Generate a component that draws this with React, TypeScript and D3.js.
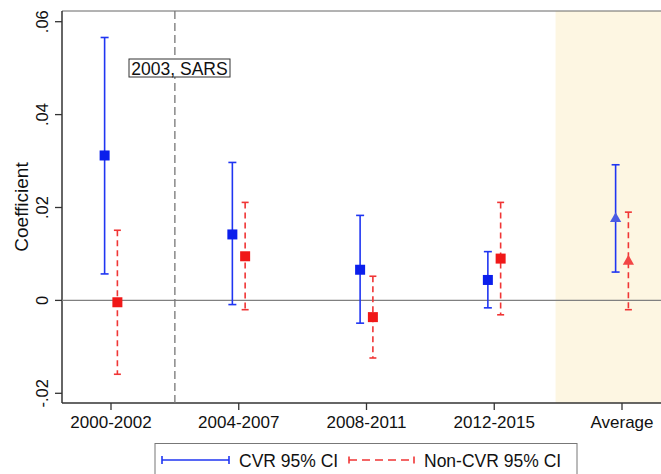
import React from 'react'
import * as d3 from 'd3'

// periods on the x axis (positions 1..5)
const periods = ['2000-2002', '2004-2007', '2008-2011', '2012-2015', 'Average']

// CVR coefficient and 95% CI
const cvrCoef = [0.0312, 0.0142, 0.0066, 0.0044, 0.0176]
const cvrLo = [0.0057, -0.0009, -0.0049, -0.0016, 0.0061]
const cvrHi = [0.0566, 0.0297, 0.0183, 0.0105, 0.0292]

// Non-CVR coefficient and 95% CI
const nonCoef = [-0.0004, 0.0095, -0.0036, 0.009, 0.0084]
const nonLo = [-0.0159, -0.002, -0.0124, -0.0031, -0.002]
const nonHi = [0.0151, 0.0211, 0.0052, 0.0211, 0.019]

const yTicks = [-0.02, 0, 0.02, 0.04, 0.06]
const yTickLabels = ['-.02', '0', '.02', '.04', '.06']

const sarsAt = 1.5
const avgShadeFrom = 4.48

const W = 661
const H = 474
const left = 62
const right = 661
const top = 11
const bottom = 403
const font = '"Liberation Sans", Arial, Helvetica, sans-serif'

const BLUE = '#1f35f2'
const BLUE_MARK = '#0b1fec'
const BLUE_AVG = '#4a5be3'
const RED = '#f03535'
const RED_MARK = '#f01818'
const RED_AVG = '#f24545'

export default function App() {
	const x = d3.scaleLinear().domain([1, 5]).range([111, 622])
	const y = d3.scaleLinear().domain([-0.02, 0.06]).range([393.3, 21.7])
	const off = 0.05
	const tri = d3.symbol().type(d3.symbolTriangle).size(55)()

	const series = [
		{ coef: cvrCoef, lo: cvrLo, hi: cvrHi, dx: -off, line: BLUE, mark: BLUE_MARK, avg: BLUE_AVG, dash: undefined, cap: 4 },
		{ coef: nonCoef, lo: nonLo, hi: nonHi, dx: off, line: RED, mark: RED_MARK, avg: RED_AVG, dash: '6,4', cap: 3.5 },
	]

	return (
		<svg width={W} height={H} style={{ position: 'absolute', left: 0, top: 0, background: '#fff' }} fontFamily={font}>
			{/* average shading */}
			<rect x={x(avgShadeFrom)} y={top} width={right - x(avgShadeFrom)} height={bottom - top} fill="#fdf6e2" />

			{/* frame */}
			<line x1={left} x2={right} y1={top} y2={top} stroke="#666" strokeWidth={1} />
			<line x1={left} x2={right} y1={bottom} y2={bottom} stroke="#333" strokeWidth={1.5} />
			<line x1={left} x2={left} y1={top} y2={bottom} stroke="#333" strokeWidth={1.5} />

			{/* zero line */}
			<line x1={left} x2={right} y1={y(0)} y2={y(0)} stroke="#808080" strokeWidth={1.4} />

			{/* SARS line */}
			<line x1={x(sarsAt)} x2={x(sarsAt)} y1={top} y2={bottom} stroke="#777" strokeWidth={1.3} strokeDasharray="8,4" />
			<rect x={129} y={59} width={101} height={18} fill="#fff" stroke="#333" strokeWidth={1} />
			<text x={179.5} y={74.5} fontSize={17.5} textAnchor="middle" fill="#111">2003, SARS</text>

			{/* y axis */}
			{yTicks.map((t, i) => (
				<g key={t}>
					<line x1={left - 7} x2={left} y1={y(t)} y2={y(t)} stroke="#333" strokeWidth={1.3} />
					<text transform={`translate(48,${y(t)}) rotate(-90)`} textAnchor="middle" fontSize={16.5} fill="#111">
						{yTickLabels[i]}
					</text>
				</g>
			))}
			<text transform={`translate(28,${(top + bottom) / 2}) rotate(-90)`} textAnchor="middle" fontSize={19} fill="#111">
				Coefficient
			</text>

			{/* x axis */}
			{periods.map((p, i) => (
				<g key={p}>
					<line x1={x(i + 1)} x2={x(i + 1)} y1={bottom} y2={bottom + 7} stroke="#333" strokeWidth={1.3} />
					<text x={x(i + 1)} y={428} textAnchor="middle" fontSize={17} fill="#111">{p}</text>
				</g>
			))}

			{/* CIs and points */}
			{series.map((s, si) =>
				periods.map((p, i) => {
					const cx = x(i + 1 + s.dx)
					const isAvg = i === periods.length - 1
					return (
						<g key={`${si}-${p}`}>
							<line x1={cx} x2={cx} y1={y(s.hi[i])} y2={y(s.lo[i])} stroke={s.line} strokeWidth={1.6} strokeDasharray={s.dash} />
							<line x1={cx - s.cap} x2={cx + s.cap} y1={y(s.hi[i])} y2={y(s.hi[i])} stroke={s.line} strokeWidth={1.6} />
							<line x1={cx - s.cap} x2={cx + s.cap} y1={y(s.lo[i])} y2={y(s.lo[i])} stroke={s.line} strokeWidth={1.6} />
							{isAvg ? (
								<path d={tri} transform={`translate(${cx},${y(s.coef[i])})`} fill={s.avg} />
							) : (
								<rect x={cx - 5} y={y(s.coef[i]) - 5} width={10} height={10} fill={s.mark} />
							)}
						</g>
					)
				})
			)}

			{/* legend */}
			<rect x={155} y={443.5} width={422} height={40} fill="#fff" stroke="#777" strokeWidth={1} />
			<line x1={162} x2={229} y1={460} y2={460} stroke={BLUE} strokeWidth={1.6} />
			<line x1={162} x2={162} y1={456} y2={464} stroke={BLUE} strokeWidth={1.6} />
			<line x1={229} x2={229} y1={456} y2={464} stroke={BLUE} strokeWidth={1.6} />
			<text x={239} y={467} fontSize={17.5} fill="#111">CVR 95% CI</text>
			<line x1={349} x2={414} y1={460} y2={460} stroke={RED} strokeWidth={1.6} strokeDasharray="8,5" />
			<line x1={349} x2={349} y1={456.5} y2={463.5} stroke={RED} strokeWidth={1.6} />
			<line x1={414} x2={414} y1={456.5} y2={463.5} stroke={RED} strokeWidth={1.6} />
			<text x={424} y={467} fontSize={17.5} fill="#111">Non-CVR 95% CI</text>
		</svg>
	)
}
